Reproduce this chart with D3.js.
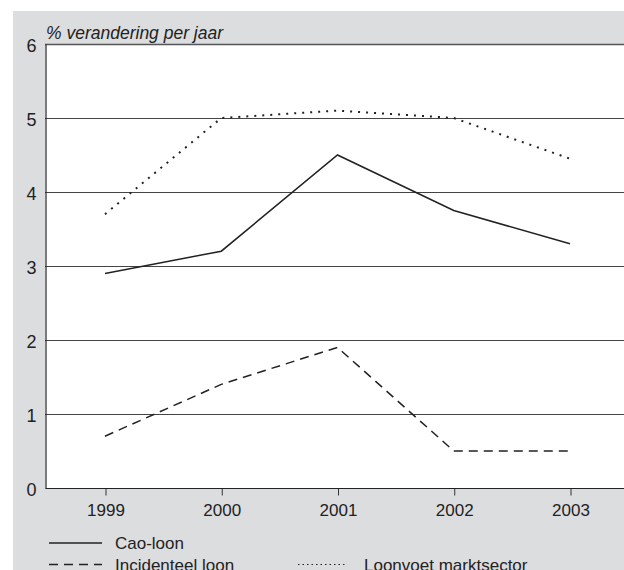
<!DOCTYPE html>
<html><head><meta charset="utf-8">
<script src="https://cdn.jsdelivr.net/npm/d3@7"></script>
<style>html,body{margin:0;padding:0;background:#fff;overflow:hidden}svg{display:block}text{font-family:"Liberation Sans",Arial,sans-serif;fill:#222}</style>
</head><body>
<script>
const years = ["1999","2000","2001","2002","2003"];
const caoLoon = [2.9, 3.2, 4.5, 3.75, 3.3];
const incidenteelLoon = [0.7, 1.4, 1.9, 0.5, 0.5];
const loonvoetMarktsector = [3.7, 5.0, 5.1, 5.0, 4.45];
const yTicks = [0,1,2,3,4,5,6];
const seriesNames = ["Cao-loon","Incidenteel loon","Loonvoet marktsector"];
const yTitle = "% verandering per jaar";

(function(){
const W = 624, H = 570;
const svg = d3.select("body").append("svg").attr("width", W).attr("height", H);
svg.append("rect").attr("x",13).attr("y",11).attr("width",W-13).attr("height",H-11).attr("fill","#dcdddf");

const pl = 45, pt = 44, pr = 624, pb = 488;
svg.append("rect").attr("x",pl).attr("y",pt).attr("width",pr-pl).attr("height",pb-pt).attr("fill","#fff");

const x = d3.scalePoint().domain(years).range([105, 570]);
const y = d3.scaleLinear().domain([0,6]).range([pb, pt]);

// gridlines
const g = svg.append("g");
g.selectAll("line.grid").data(yTicks.filter(d=>d>0)).join("line")
  .attr("x1", pl).attr("x2", pr)
  .attr("y1", d=>y(d)+0.5).attr("y2", d=>y(d)+0.5)
  .attr("stroke", d=> d===6 ? "#555" : "#444").attr("stroke-width", d=> d===6 ? 1.5 : 1.2);

// y axis
const yAxis = d3.axisLeft(y).tickValues(yTicks).tickFormat(d3.format("d")).tickSize(0).tickPadding(9);
const ya = svg.append("g").attr("transform",`translate(${pl+0.5},0)`).call(yAxis);
ya.select(".domain").attr("stroke","#222").attr("stroke-width",1.2);
ya.selectAll("text").attr("font-size",18).attr("dy","0.42em").attr("font-family","Liberation Sans, Arial, sans-serif").attr("fill","#222");

// x axis
const xAxis = d3.axisBottom(x).tickSize(7).tickPadding(8);
const xa = svg.append("g").attr("transform",`translate(0.5,${pb+0.5})`).call(xAxis);
xa.select(".domain").remove();
xa.append("line").attr("x1",pl).attr("x2",pr).attr("y1",0).attr("y2",0).attr("stroke","#222").attr("stroke-width",1.2);
xa.selectAll(".tick line").attr("stroke","#333");
xa.selectAll("text").attr("font-size",17).attr("font-family","Liberation Sans, Arial, sans-serif").attr("fill","#222");

// title
svg.append("text").attr("x",46).attr("y",39).attr("font-size",17.5).attr("font-style","italic").text(yTitle);

const line = d3.line().x((d,i)=>x(years[i])).y(d=>y(d));
const styles = [
  {data: caoLoon, dash: null, w: 1.5},
  {data: incidenteelLoon, dash: "9,6", w: 1.5},
  {data: loonvoetMarktsector, dash: "2,6", w: 2}
];
styles.forEach(s=>{
  svg.append("path").attr("d", line(s.data)).attr("fill","none")
    .attr("stroke","#222").attr("stroke-width", s.w)
    .attr("stroke-dasharray", s.dash);
});

// legend
const legend = [
  {x1:49, x2:102, y:543, tx:115, name: seriesNames[0], s: styles[0]},
  {x1:49, x2:102, y:564.5, tx:115, name: seriesNames[1], s: styles[1]},
  {x1:298, x2:347, y:564.5, tx:364, name: seriesNames[2], s: {dash:"1.5,3", w:1}}
];
legend.forEach(l=>{
  svg.append("line").attr("x1",l.x1).attr("x2",l.x2).attr("y1",l.y).attr("y2",l.y)
    .attr("stroke","#222").attr("stroke-width", l.s.w).attr("stroke-dasharray", l.s.dash);
  svg.append("text").attr("x",l.tx).attr("y",l.y+6).attr("font-size",17).text(l.name);
});
})();
</script>
</body></html>
